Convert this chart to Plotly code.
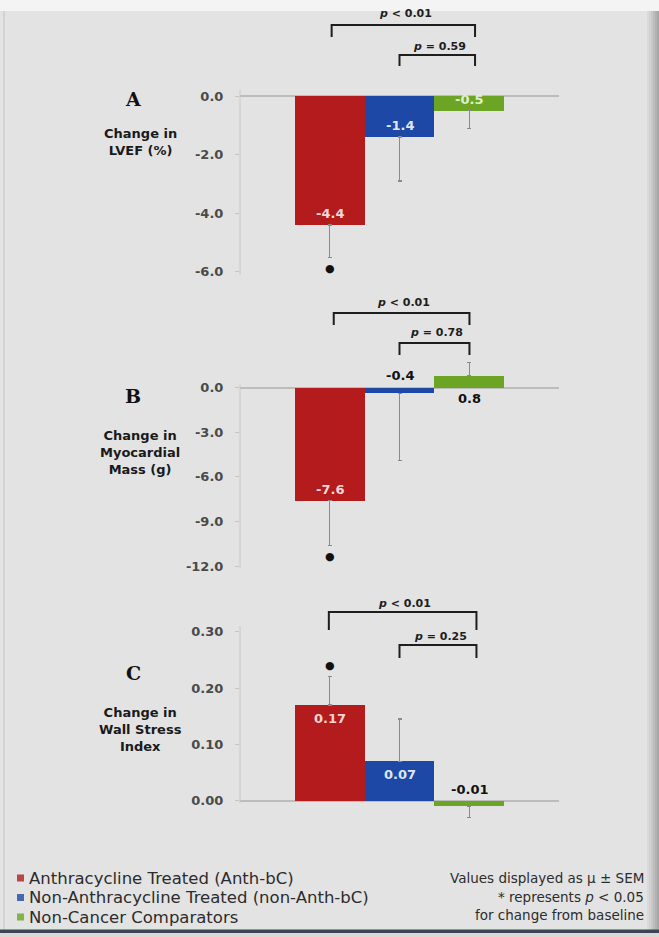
import plotly.graph_objects as go

W, H = 659, 937

# ---- data -------------------------------------------------------------
groups = [
    "Anthracycline Treated (Anth-bC)",
    "Non-Anthracycline Treated (non-Anth-bC)",
    "Non-Cancer Comparators",
]
colors = ["#b31b1c", "#1d48a6", "#6ca524"]
inner_text = ["#f6d6d6", "#dfe7f6", "#e0efcc"]
positions = [-1, 0, 1]

lvef_mean = [-4.4, -1.4, -0.5]
lvef_sem = [1.1, 1.5, 0.6]
lvef_sig = [True, False, False]
lvef_ticks = [0.0, -2.0, -4.0, -6.0]
lvef_p = ["<i>p</i> < 0.01", "<i>p</i> = 0.59"]

mass_mean = [-7.6, -0.4, 0.8]
mass_sem = [3.0, 4.5, 0.9]
mass_sig = [True, False, False]
mass_ticks = [0.0, -3.0, -6.0, -9.0, -12.0]
mass_p = ["<i>p</i> < 0.01", "<i>p</i> = 0.78"]

wsi_mean = [0.17, 0.07, -0.01]
wsi_sem = [0.05, 0.075, 0.02]
wsi_sig = [True, False, False]
wsi_ticks = [0.0, 0.10, 0.20, 0.30]
wsi_p = ["<i>p</i> < 0.01", "<i>p</i> = 0.25"]

notes = [
    "Values displayed as \u03bc \u00b1 SEM",
    "* represents <i>p</i> < 0.05",
    "for change from baseline",
]

# ---- layout helpers (page pixels -> paper fractions) ------------------
def px_x(x):
    return x / W


def px_y(y):
    return 1 - y / H


FONT = "DejaVu Sans"
X_LEFT, X_RIGHT = 240, 559
X_RANGE = [-2.28, 2.28]

panels = [
    dict(mean=lvef_mean, sem=lvef_sem, sig=lvef_sig, ticks=lvef_ticks, fmt="{:.1f}",
         pvals=lvef_p, letter="A", title="Change in<br>LVEF (%)",
         zero=96, ppu=29.3, dom=(0, 290), axis_span=(0.2, -6.1),
         label_modes=["in", "in", "in"], letter_y=99, title_y=142,
         brackets=[(-0.97, 1.08, 25, 37, 14), (0.0, 1.08, 55, 66, 46)]),
    dict(mean=mass_mean, sem=mass_sem, sig=mass_sig, ticks=mass_ticks, fmt="{:.1f}",
         pvals=mass_p, letter="B", title="Change in<br>Myocardial<br>Mass (g)",
         zero=387.5, ppu=14.9, dom=(295, 582), axis_span=(0.2, -12.1),
         label_modes=["in", "above0", "below0"], letter_y=396, title_y=452,
         brackets=[(-0.94, 1.0, 313, 325, 302), (0.0, 1.0, 343, 355, 332)]),
    dict(mean=wsi_mean, sem=wsi_sem, sig=wsi_sig, ticks=wsi_ticks, fmt="{:.2f}",
         pvals=wsi_p, letter="C", title="Change in<br>Wall Stress<br>Index",
         zero=800.7, ppu=563.0, dom=(590, 840), axis_span=(0.31, -0.004),
         label_modes=["in", "in", "above0"], letter_y=673, title_y=729,
         brackets=[(-1.01, 1.1, 612, 630, 603), (0.0, 1.1, 645, 658, 636)]),
]

fig = go.Figure()
shapes = []
annotations = []

# page background details: light top strip, shaded right edge, bottom rule
shapes.append(dict(type="rect", xref="paper", yref="paper", x0=0, x1=1,
                   y0=px_y(11), y1=1, fillcolor="#f4f4f4", line_width=0, layer="below"))
for i, c in enumerate(["#dadada", "#d2d2d2", "#c8c8c8", "#bdbdbd", "#b2b2b2", "#a8a8a8"]):
    shapes.append(dict(type="rect", xref="paper", yref="paper",
                       x0=px_x(647 + 2 * i), x1=px_x(649 + 2 * i),
                       y0=px_y(930), y1=px_y(11), fillcolor=c, line_width=0, layer="below"))
shapes.append(dict(type="rect", xref="paper", yref="paper", x0=px_x(3), x1=px_x(5),
                   y0=px_y(930), y1=px_y(11), fillcolor="#d3d3d3", line_width=0, layer="below"))
shapes.append(dict(type="rect", xref="paper", yref="paper", x0=0, x1=1,
                   y0=px_y(933), y1=px_y(929.5), fillcolor="#3d4455", line_width=0, layer="below"))
shapes.append(dict(type="rect", xref="paper", yref="paper", x0=0, x1=1,
                   y0=0, y1=px_y(933), fillcolor="#d9d9d9", line_width=0, layer="below"))

for k, p in enumerate(panels):
    n = "" if k == 0 else str(k + 1)
    xa, ya = "x" + n, "y" + n
    top, bottom = p["dom"]
    y_range = [(p["zero"] - bottom) / p["ppu"], (p["zero"] - top) / p["ppu"]]

    for i in range(3):
        m, s = p["mean"][i], p["sem"][i]
        fig.add_trace(go.Bar(
            x=[positions[i]], y=[m], width=1.0,
            marker=dict(color=colors[i], line=dict(width=0)),
            error_y=dict(type="data", symmetric=False,
                         array=[s if m >= 0 else 0], arrayminus=[s if m < 0 else 0],
                         color="#8a8a8a", thickness=1.2, width=2),
            name=groups[i], showlegend=False, xaxis=xa, yaxis=ya,
            hoverinfo="skip",
        ))

        # value label
        txt = p["fmt"].format(m)
        mode = p["label_modes"][i]
        if mode == "in":
            annotations.append(dict(
                x=positions[i], y=m, xref=xa, yref=ya, text=txt, showarrow=False,
                xanchor="center",
                yanchor="bottom" if m < 0 else "top", yshift=2 if m < 0 else -4,
                font=dict(family=FONT, size=13, color=inner_text[i], weight="bold")))
        else:
            annotations.append(dict(
                x=positions[i], y=0, xref=xa, yref=ya, text=txt, showarrow=False,
                xanchor="center",
                yanchor="bottom" if mode == "above0" else "top",
                yshift=2 if mode == "above0" else -2,
                font=dict(family=FONT, size=13, color="#111111", weight="bold")))

        # significance dot beyond the error bar
        if p["sig"][i]:
            end = m + s if m >= 0 else m - s
            annotations.append(dict(
                x=positions[i], y=end, xref=xa, yref=ya, text="\u25cf", showarrow=False,
                xanchor="center",
                yanchor="bottom" if m >= 0 else "top", yshift=3 if m >= 0 else -3,
                font=dict(family=FONT, size=11, color="#111111")))

    fig.update_layout({
        "xaxis" + n: dict(domain=[px_x(X_LEFT), px_x(X_RIGHT)], range=X_RANGE,
                          visible=False, fixedrange=True),
        "yaxis" + n: dict(domain=[px_y(bottom), px_y(top)], range=y_range,
                          tickvals=p["ticks"], ticktext=[p["fmt"].format(t) for t in p["ticks"]],
                          ticks="outside", ticklen=4, tickcolor="#c4c4c4",
                          ticklabelstandoff=9,
                          tickfont=dict(family=FONT, size=13, color="#4a4a4a", weight="bold"),
                          showgrid=False, showline=False,
                          zeroline=True, zerolinecolor="#bcbcbc", zerolinewidth=2,
                          anchor=xa, fixedrange=True),
    })

    # vertical axis line over the tick span
    shapes.append(dict(type="line", xref=xa + " domain", yref=ya, x0=0, x1=0,
                       y0=p["axis_span"][0], y1=p["axis_span"][1],
                       line=dict(color="#c8c8c8", width=1)))

    # comparison brackets
    for (bx0, bx1, y_bar, y_leg, y_txt), label in zip(p["brackets"], p["pvals"]):
        shapes.append(dict(type="path", xref=xa, yref="paper",
                           path=f"M {bx0},{px_y(y_leg)} L {bx0},{px_y(y_bar)} "
                                f"L {bx1},{px_y(y_bar)} L {bx1},{px_y(y_leg)}",
                           line=dict(color="#1e1e1e", width=2)))
        annotations.append(dict(x=(bx0 + bx1) / 2 + 0.03, y=px_y(y_txt), xref=xa, yref="paper",
                                text=label, showarrow=False, xanchor="center", yanchor="middle",
                                font=dict(family=FONT, size=11, color="#1e1e1e", weight="bold")))

    # panel letter and axis title
    annotations.append(dict(x=px_x(133), y=px_y(p["letter_y"]), xref="paper", yref="paper",
                            text=p["letter"], showarrow=False, xanchor="center", yanchor="middle",
                            font=dict(family="DejaVu Serif", size=19, color="#111111",
                                      weight="bold")))
    annotations.append(dict(x=px_x(140), y=px_y(p["title_y"]), xref="paper", yref="paper",
                            text=p["title"], showarrow=False, xanchor="center", yanchor="middle",
                            align="center",
                            font=dict(family=FONT, size=13, color="#1a1a1a", weight="bold")))

# group key, lower left
for i, g in enumerate(groups):
    yc = 878 + 19.5 * i
    shapes.append(dict(type="rect", xref="paper", yref="paper",
                       x0=px_x(17), x1=px_x(24), y0=px_y(yc + 3.5), y1=px_y(yc - 3.5),
                       fillcolor=colors[i], line_width=0, opacity=0.8))
    annotations.append(dict(x=px_x(27), y=px_y(yc), xref="paper", yref="paper",
                            text=g, showarrow=False, xanchor="left", yanchor="middle",
                            font=dict(family=FONT, size=16.5, color="#2c2c2c")))

# notes, lower right
for i, t in enumerate(notes):
    annotations.append(dict(x=px_x(646), y=px_y(878 + 18.5 * i), xref="paper", yref="paper",
                            text=t, showarrow=False, xanchor="right", yanchor="middle",
                            font=dict(family=FONT, size=13.5, color="#2c2c2c")))

fig.update_layout(
    width=W, height=H,
    margin=dict(l=0, r=0, t=0, b=0),
    paper_bgcolor="#e3e3e3", plot_bgcolor="rgba(0,0,0,0)",
    barmode="overlay", bargap=0,
    shapes=shapes, annotations=annotations,
    showlegend=False,
)

fig.write_html("out.html", config={"displayModeBar": False})
